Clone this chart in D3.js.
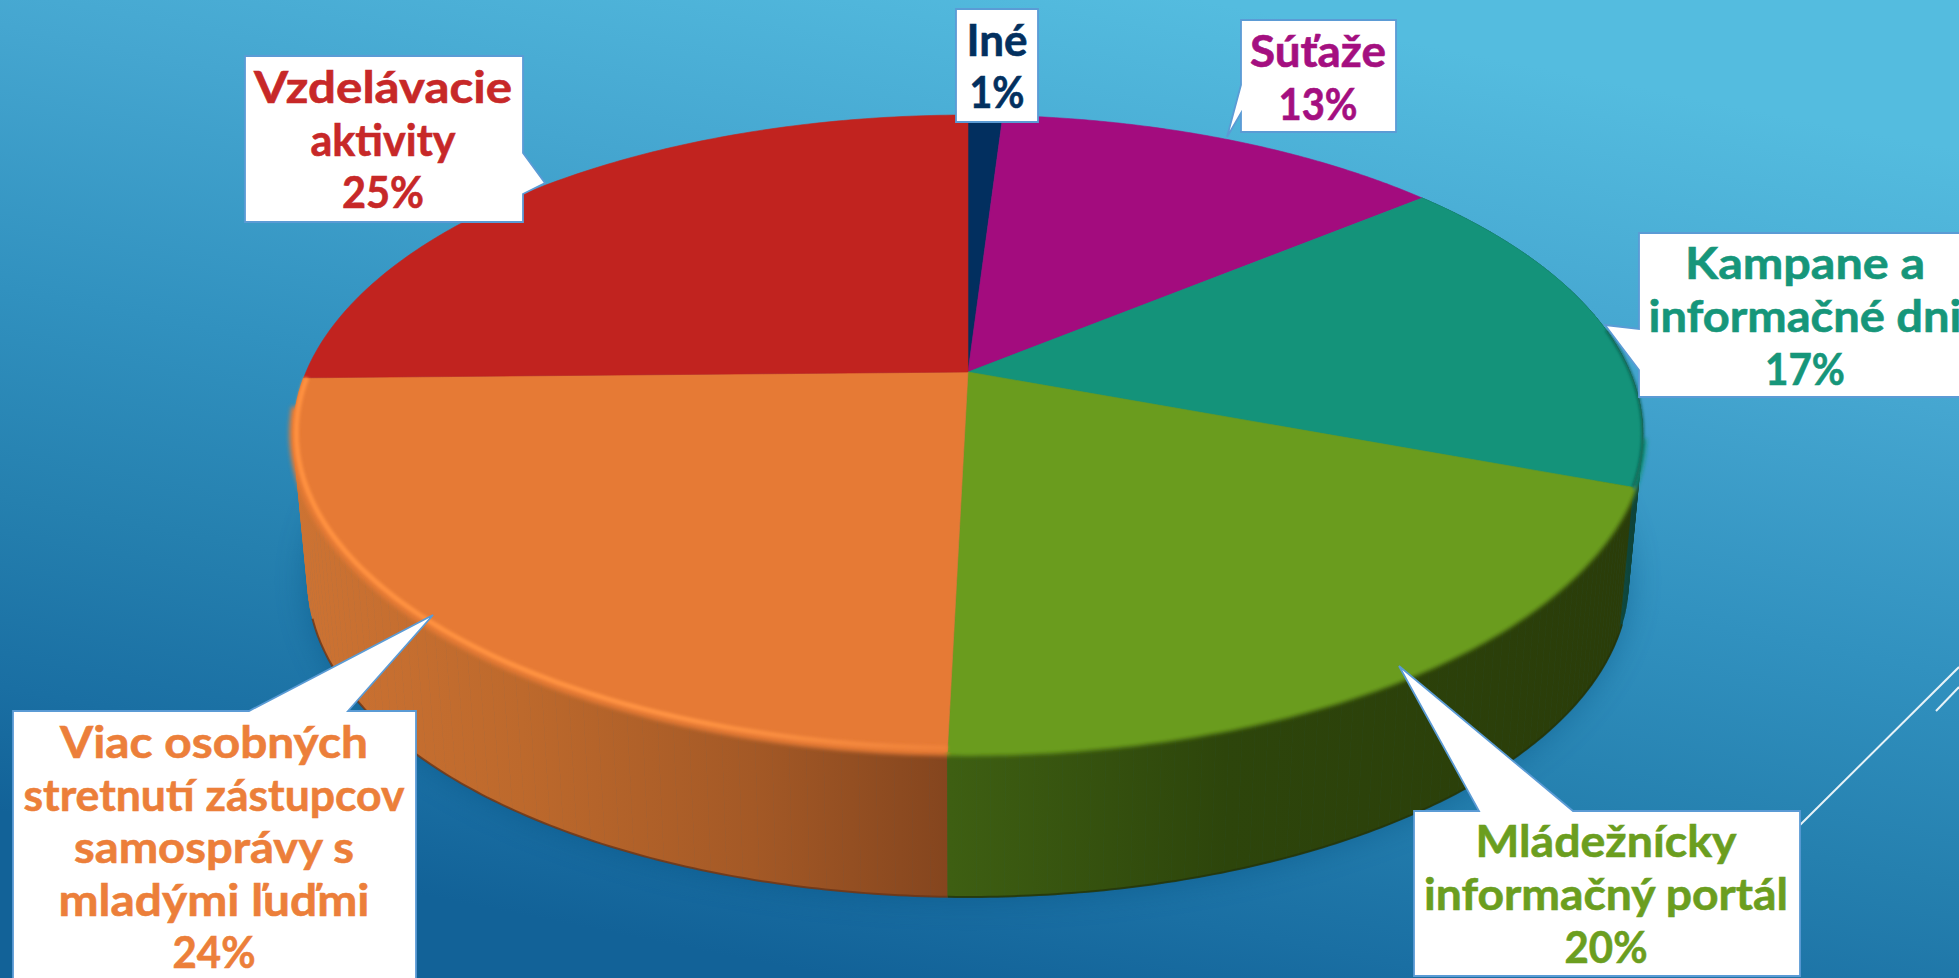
<!DOCTYPE html>
<html><head><meta charset="utf-8">
<script src="https://cdn.jsdelivr.net/npm/d3@7/dist/d3.min.js"></script>
<style>html,body{margin:0;padding:0;overflow:hidden;background:#2a84b4}svg{display:block}</style>
</head><body>
<svg id="c" width="1959" height="978"></svg>
<script>
// ---- data ----
const categories = ["Iné","Súťaže","Kampane a informačné dni","Mládežnícky informačný portál","Viac osobných stretnutí zástupcov samosprávy s mladými ľuďmi","Vzdelávacie aktivity"];
const values = [1.0,13.0,16.7,19.7,24.3,25.3];
const labelLines = [["Iné"],["Súťaže"],["Kampane a","informačné dni"],["Mládežnícky","informačný portál"],["Viac osobných","stretnutí zástupcov","samosprávy s","mladými ľuďmi"],["Vzdelávacie","aktivity"]];
const faceColors = ["#022f5f","#a30c7e","#14937a","#6a9c1e","#e67a35","#c1231f"];
const textColors = ["#03305f","#a40f80","#16967a","#6b9e1f","#ec7f3a","#c72828"];

// ---- layout ----
const W = 1959, H = 978;
const k = 0.193;
const topDisk = {x0:968, y0:372, A:662, B:306.6};
const botDisk = {x0:968, y0:519, A:648, B:305};
const project = (d,t) => { const w = 1 + k*Math.cos(t);
  return [d.x0 + d.A*Math.sin(t)/w, d.y0 - d.B*Math.cos(t)/w]; };
const callouts = [
 {box:[956,9,82,113], base:[997,56,52], widths:[61,55], ptr:null},
 {box:[1241,20,155,112], base:[1318,67,53], widths:[136,79], ptr:[[1241,85],[1227,137],[1241,113]]},
 {box:[1639,233,340,164], base:[1805,279,53], widths:[240,313,80], ptr:[[1639,329],[1605,325],[1639,370]]},
 {box:[1414,811,386,165], base:[1606,857,53], widths:[261,364,83], ptr:[[1479,811],[1399,666],[1573,811]]},
 {box:[13,711,403,290], base:[214,758,52.5], widths:[308,381,280,311,83], ptr:[[249,711],[433,615],[348,711]]},
 {box:[245,56,278,166], base:[383,103,52.5], widths:[258,145,82], ptr:[[523,153],[545,183],[523,194]]}
];

const svg = d3.select("#c");
const defs = svg.append("defs");

// background
const bg = defs.append("linearGradient").attr("id","bg").attr("gradientUnits","userSpaceOnUse")
  .attr("x1",1100).attr("y1",-20).attr("x2",900).attr("y2",990);
[[0,"#54bcdf"],[.25,"#45a6d0"],[.5,"#3191bf"],[.7,"#2580af"],[.88,"#1a6fa3"],[1,"#126298"]]
  .forEach(s=>bg.append("stop").attr("offset",s[0]).attr("stop-color",s[1]));
[["b2",2.2],["b1",1.6],["b20",16]].forEach(f=>defs.append("filter").attr("id",f[0])
  .attr("x","-20%").attr("y","-20%").attr("width","140%").attr("height","140%")
  .append("feGaussianBlur").attr("stdDeviation",f[1]));
const wallGrads = {
 2:{x1:1560,x2:1650,stops:[[0,"#10574a"],[1,"#0d3f35"]]},
 3:{x1:950,x2:1640,stops:[[0,"#3e5f12"],[.4,"#2d450b"],[1,"#2a3c09"]]},
 4:{x1:292,x2:950,stops:[[0,"#cd7333"],[.35,"#bd692c"],[.7,"#a45926"],[1,"#84451e"]]}
};
Object.keys(wallGrads).forEach(i=>{const g=wallGrads[i];
  const lg=defs.append("linearGradient").attr("id","wall"+i).attr("gradientUnits","userSpaceOnUse")
    .attr("x1",g.x1).attr("x2",g.x2).attr("y1",0).attr("y2",0);
  g.stops.forEach(s=>lg.append("stop").attr("offset",s[0]).attr("stop-color",s[1]));});
const hl = defs.append("linearGradient").attr("id","hl").attr("gradientUnits","userSpaceOnUse")
  .attr("x1",292).attr("x2",950).attr("y1",0).attr("y2",0);
[[0,"#ff9140"],[.6,"#ff9342"],[1,"#ee8139"]].forEach(s=>hl.append("stop").attr("offset",s[0]).attr("stop-color",s[1]));

svg.append("rect").attr("width",W).attr("height",H).attr("fill","url(#bg)");

// decorative lines
const decoLine = d3.line();
svg.append("path").attr("d",decoLine([[1800,825],[1959,667]])).attr("stroke","#e8f3f8").attr("stroke-width",2).attr("fill","none");
svg.append("path").attr("d",decoLine([[1936,711],[1959,687]])).attr("stroke","#e8f3f8").attr("stroke-width",2).attr("fill","none");

// pie geometry from the values
const pie = d3.pie().sort(null).value(d=>d).startAngle(0).endAngle(2*Math.PI);
const arcs = pie(values);
const total = d3.sum(values);
const line = d3.line();
const sample = (a,b,n=120) => d3.range(n+1).map(i=>a+(b-a)*i/n);
const full = sample(0,2*Math.PI,240);

// soft shadow around the body
svg.append("path").attr("d",line(full.map(t=>project(botDisk,t)))+"Z")
  .attr("fill","#0a4a78").attr("opacity",.45).attr("filter","url(#b20)");

// walls: the slices that face the viewer, swept strip by strip
const wallOrder = [2,4,3];
const wallG = svg.append("g");
wallOrder.forEach(i=>{ const a=arcs[i];
  const ts=sample(a.startAngle,a.endAngle,70);
  wallG.append("g").selectAll("path").data(d3.pairs(ts)).join("path")
    .attr("d",([t0,t1])=>line([project(topDisk,t0),project(topDisk,t1),project(botDisk,t1),project(botDisk,t0)])+"Z")
    .attr("fill",`url(#wall${i})`).attr("stroke",`url(#wall${i})`).attr("stroke-width",.7);
  wallG.append("path").attr("d",line(sample(Math.max(a.startAngle,1.9),Math.min(a.endAngle,4.4)).map(t=>project(botDisk,t)))).attr("fill","none")
    .attr("stroke",i===4?"#6a3517":"#23330a").attr("stroke-width",2).attr("opacity",.8);
});

// soft bevel at the top rim (only where the wall is seen)
const rim = svg.append("g").attr("filter","url(#b2)");
[2,3,4].forEach(i=>{const a=arcs[i];
  const from=Math.max(a.startAngle,1.78), to=Math.min(a.endAngle,4.6);
  rim.append("path").attr("d",line(sample(from,to).map(t=>project(topDisk,t))))
    .attr("fill","none").attr("stroke",faceColors[i]).attr("stroke-width",8);
});

// top face
const face = svg.append("g");
arcs.forEach((a,i)=>{
  const pts=[[topDisk.x0,topDisk.y0]].concat(sample(a.startAngle,a.endAngle).map(t=>project(topDisk,t)));
  face.append("path").attr("d",line(pts)+"Z").attr("fill",faceColors[i]).attr("stroke",faceColors[i]).attr("stroke-width",.6);
});

// dark edge along the back-right of the teal slice
svg.append("path").attr("d",line(sample(arcs[2].startAngle+.55,arcs[2].endAngle).map(t=>project(topDisk,t))))
  .attr("fill","none").attr("stroke","#0d5f50").attr("stroke-width",2.5).attr("filter","url(#b1)");

// orange rim highlight
const inner = {x0:topDisk.x0, y0:topDisk.y0, A:topDisk.A-3, B:topDisk.B-3};
svg.append("path").attr("d",line(sample(arcs[4].startAngle,arcs[4].endAngle).map(t=>project(inner,t))))
  .attr("fill","none").attr("stroke","url(#hl)").attr("stroke-width",5).attr("filter","url(#b1)");

// callouts
const g = svg.append("g").attr("font-family","'Lato','Noto Sans',sans-serif").attr("font-weight",700);
callouts.forEach((c,i)=>{
  const [x,y,w,h]=c.box;
  const node=g.append("g");
  let outline=[[x,y],[x+w,y],[x+w,y+h],[x,y+h]];
  if(c.ptr){
    const [p0,tip,p1]=c.ptr;
    if(p0[1]===y && p1[1]===y) outline=[[x,y],p0,tip,p1,[x+w,y],[x+w,y+h],[x,y+h]];
    else if(p0[0]===x) outline=[[x,y],[x+w,y],[x+w,y+h],[x,y+h],p1,tip,p0];
    else outline=[[x,y],[x+w,y],p0,tip,p1,[x+w,y+h],[x,y+h]];
  }
  node.append("path").attr("d",line(outline)+"Z").attr("fill","#fff").attr("stroke","#5b9bd5").attr("stroke-width",1.8).attr("stroke-linejoin","miter");
  const lines=labelLines[i].concat([d3.format(".0f")(values[i]/total*100)+"%"]);
  lines.forEach((t,j)=>{
    node.append("text").attr("x",c.base[0]).attr("y",c.base[1]+j*c.base[2])
      .attr("text-anchor","middle").attr("fill",textColors[i]).attr("stroke",textColors[i]).attr("stroke-width",.6).attr("font-size",44)
      .attr("textLength",c.widths[j]).attr("lengthAdjust","spacingAndGlyphs").text(t);
  });
});
</script>
</body></html>
